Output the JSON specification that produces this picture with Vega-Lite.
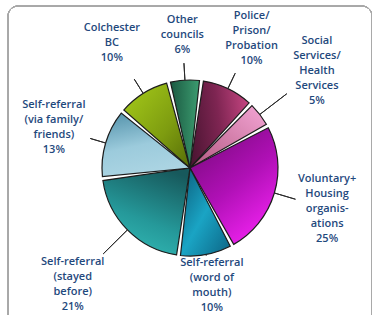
{
  "$schema": "https://vega.github.io/schema/vega-lite/v6.json",
  "autosize": {"type": "none"},
  "padding": {"left": 8, "top": 6, "right": 0, "bottom": 0},
  "width": 364,
  "height": 324,
  "background": "white",
  "config": {
    "view": {"stroke": null},
    "text": {"font": "Open Sans", "fontWeight": 600, "fontSize": 11, "lineHeight": 15, "fill": "#1f497d"}
  },
  "data": {
    "values": [
      {"idx": 1, "source": "Police/Prison/Probation", "value": 10, "label": "Police/\nPrison/\nProbation\n10%"},
      {"idx": 2, "source": "Social Services/Health Services", "value": 5, "label": "Social\nServices/\nHealth\nServices\n5%"},
      {"idx": 3, "source": "Voluntary+Housing organisations", "value": 25, "label": "Voluntary+\nHousing\norganis-\nations\n25%"},
      {"idx": 4, "source": "Self-referral (word of mouth)", "value": 10, "label": "Self-referral\n(word of\nmouth)\n10%"},
      {"idx": 5, "source": "Self-referral (stayed before)", "value": 21, "label": "Self-referral\n(stayed\nbefore)\n21%"},
      {"idx": 6, "source": "Self-referral (via family/friends)", "value": 13, "label": "Self-referral\n(via family/\nfriends)\n13%"},
      {"idx": 7, "source": "Colchester BC", "value": 10, "label": "Colchester\nBC\n10%"},
      {"idx": 8, "source": "Other councils", "value": 6, "label": "Other\ncouncils\n6%"}
    ]
  },
  "encoding": {
    "theta": {"field": "value", "type": "quantitative", "stack": true, "scale": {"range": [0.131, 6.414]}},
    "order": {"field": "idx", "type": "quantitative", "sort": "ascending"}
  },
  "layer": [
    {
      "mark": {"type": "rect", "fill": null, "fillOpacity": 0, "stroke": "#a8a8a8", "strokeWidth": 1, "cornerRadius": 10},
      "encoding": {"theta": null, "order": null}
    },
    {
      "mark": {"type": "arc", "radius": 88, "padAngle": 0.045, "stroke": "#1c1c1c", "strokeWidth": 1.2},
      "encoding": {
        "fill": {
          "condition": [
            {"test": "datum.idx == 1", "value": {"gradient": "linear", "x1": 0, "y1": 0.6, "x2": 1, "y2": 0.4, "stops": [{"offset": 0, "color": "#4e1634"}, {"offset": 0.5, "color": "#7e2552"}, {"offset": 1, "color": "#c2447f"}]}},
            {"test": "datum.idx == 2", "value": {"gradient": "linear", "x1": 0, "y1": 1, "x2": 1, "y2": 0, "stops": [{"offset": 0, "color": "#b2587f"}, {"offset": 1, "color": "#f4a6d6"}]}},
            {"test": "datum.idx == 3", "value": {"gradient": "linear", "x1": 0.2, "y1": 0, "x2": 0.8, "y2": 1, "stops": [{"offset": 0, "color": "#7a0a7e"}, {"offset": 0.5, "color": "#b010b6"}, {"offset": 1, "color": "#f624f6"}]}},
            {"test": "datum.idx == 4", "value": {"gradient": "linear", "x1": 0, "y1": 0, "x2": 1, "y2": 1, "stops": [{"offset": 0, "color": "#0b5a78"}, {"offset": 0.5, "color": "#1aa4c4"}, {"offset": 1, "color": "#0c6484"}]}},
            {"test": "datum.idx == 5", "value": {"gradient": "linear", "x1": 0.7, "y1": 0, "x2": 0.3, "y2": 1, "stops": [{"offset": 0, "color": "#17595c"}, {"offset": 0.6, "color": "#25999a"}, {"offset": 1, "color": "#32b8b4"}]}},
            {"test": "datum.idx == 6", "value": {"gradient": "linear", "x1": 0.3, "y1": 0, "x2": 0.6, "y2": 1, "stops": [{"offset": 0, "color": "#5b98b0"}, {"offset": 0.5, "color": "#9ccbdc"}, {"offset": 1, "color": "#aed6e4"}]}},
            {"test": "datum.idx == 7", "value": {"gradient": "linear", "x1": 0, "y1": 0, "x2": 1, "y2": 1, "stops": [{"offset": 0, "color": "#a6cc1a"}, {"offset": 0.6, "color": "#7e9c10"}, {"offset": 1, "color": "#566c08"}]}},
            {"test": "datum.idx == 8", "value": {"gradient": "linear", "x1": 0, "y1": 0.5, "x2": 1, "y2": 0.5, "stops": [{"offset": 0, "color": "#1b5a42"}, {"offset": 1, "color": "#3c9c70"}]}}
          ],
          "value": "#888888"
        }
      }
    },
    {
      "mark": {
        "type": "arc",
        "padAngle": 3.1,
        "fillOpacity": 0,
        "stroke": "#2a2a2a",
        "strokeWidth": 1,
        "radius2": 88,
        "radius": {"expr": "datum.idx == 1 ? 105 : datum.idx == 2 ? 122 : datum.idx == 3 ? 110 : datum.idx == 4 ? 89 : datum.idx == 5 ? 122 : datum.idx == 6 ? 104 : datum.idx == 7 ? 105 : 105"}
      },
      "encoding": {}
    },
    {
      "mark": {
        "type": "text",
        "align": "center",
        "baseline": "middle",
        "lineBreak": "\n",
        "radius": {"expr": "datum.idx == 1 ? 143 : datum.idx == 2 ? 160 : datum.idx == 3 ? 143 : datum.idx == 4 ? 120 : datum.idx == 5 ? 165 : datum.idx == 6 ? 142 : datum.idx == 7 ? 147 : 133"},
        "dy": {"expr": "-(length(split(datum.label, '\\n')) - 1) * 7.5"}
      },
      "encoding": {
        "text": {"field": "label", "type": "nominal"}
      }
    }
  ]
}
